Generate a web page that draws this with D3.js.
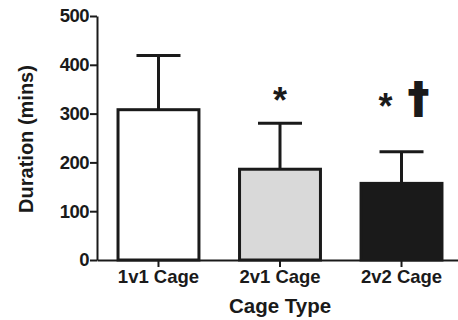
<!DOCTYPE html>
<html>
<head>
<meta charset="utf-8">
<script src="https://cdn.jsdelivr.net/npm/d3@7"></script>
<style>
  body { margin: 0; background: #fff; }
  svg text { font-family: "Liberation Sans", Arial, sans-serif; font-weight: bold; fill: #1a1a1a; }
</style>
</head>
<body>
<div id="chart"></div>
<script>
(function () {

	var categories = ["1v1 Cage", "2v1 Cage", "2v2 Cage"];
	var means = [308, 186, 157];
	var errors = [111, 94, 65];
	var fills = ["#ffffff", "#d9d9d9", "#1a1a1a"];
	var marks = [[], ["*"], ["*", "\u2020"]];
	var yTicks = [0, 100, 200, 300, 400, 500];

	var width = 458, height = 320;

	var svg = d3.select("#chart")
		.append("svg")
		.attr("width", width)
		.attr("height", height);

	var x = d3.scaleBand()
		.domain(categories)
		.range([97, 463])
		.paddingInner(0.334)
		.paddingOuter(0.173);

	var y = d3.scaleLinear()
		.domain([0, 500])
		.range([260, 16]);

	// y axis
	var yAxis = svg.append("g")
		.attr("transform", "translate(97,0)")
		.call(d3.axisLeft(y).tickValues(yTicks).tickSize(7).tickSizeOuter(0).tickPadding(1))
	yAxis.selectAll("path, line").attr("stroke", "#1a1a1a").attr("stroke-width", 2)
	yAxis.selectAll("text").attr("font-size", 18.5).style("font-family", "Liberation Sans, Arial, sans-serif")
		.attr("font-weight", "bold").attr("fill", "#1a1a1a").attr("letter-spacing", -0.5)

	// bars
	svg.selectAll(".bar")
		.data(categories)
		.enter().append("rect")
		.attr("class", "bar")
		.attr("x", function (d) { return x(d) })
		.attr("width", x.bandwidth())
		.attr("y", function (d, i) { return y(means[i]) })
		.attr("height", function (d, i) { return y(0) - y(means[i]) })
		.attr("fill", function (d, i) { return fills[i] })
		.attr("stroke", "#1a1a1a")
		.attr("stroke-width", 3)

	// error bars
	var err = svg.selectAll(".err")
		.data(categories)
		.enter().append("g")
		.attr("class", "err")
		.attr("stroke", "#1a1a1a")
		.attr("stroke-width", 3)

	err.append("line")
		.attr("x1", function (d) { return x(d) + x.bandwidth() / 2 })
		.attr("x2", function (d) { return x(d) + x.bandwidth() / 2 })
		.attr("y1", function (d, i) { return y(means[i]) })
		.attr("y2", function (d, i) { return y(means[i] + errors[i]) })

	err.append("line")
		.attr("x1", function (d) { return x(d) + x.bandwidth() / 2 - 22 })
		.attr("x2", function (d) { return x(d) + x.bandwidth() / 2 + 22 })
		.attr("y1", function (d, i) { return y(means[i] + errors[i]) })
		.attr("y2", function (d, i) { return y(means[i] + errors[i]) })

	// x axis
	var xAxis = svg.append("g")
		.attr("transform", "translate(0,260)")
		.call(d3.axisBottom(x).tickSize(7).tickSizeOuter(0).tickPadding(3))
	xAxis.selectAll("path, line").attr("stroke", "#1a1a1a").attr("stroke-width", 2)
	xAxis.selectAll("text").attr("font-size", 18.5).style("font-family", "Liberation Sans, Arial, sans-serif")
		.attr("font-weight", "bold").attr("fill", "#1a1a1a")

	// significance marks
	svg.append("text")
		.attr("x", x(categories[1]) + x.bandwidth() / 2)
		.attr("y", 113)
		.attr("text-anchor", "middle")
		.attr("font-size", 36)
		.text(marks[1][0])

	svg.append("text")
		.attr("x", x(categories[2]) + x.bandwidth() / 2 - 16)
		.attr("y", 119)
		.attr("text-anchor", "middle")
		.attr("font-size", 36)
		.text(marks[2][0])

	svg.append("text")
		.attr("x", x(categories[2]) + x.bandwidth() / 2 + 17)
		.attr("y", 112)
		.attr("text-anchor", "middle")
		.attr("font-size", 40)
		.style("font-family", "DejaVu Sans, sans-serif")
		.attr("stroke", "#1a1a1a")
		.attr("stroke-width", 2)
		.text(marks[2][1])

	// axis titles
	svg.append("text")
		.attr("transform", "translate(33,139) rotate(-90)")
		.attr("text-anchor", "middle")
		.attr("font-size", 20)
		.text("Duration (mins)")

	svg.append("text")
		.attr("x", 280)
		.attr("y", 313)
		.attr("text-anchor", "middle")
		.attr("font-size", 20.5)
		.text("Cage Type")

})();
</script>
</body>
</html>
